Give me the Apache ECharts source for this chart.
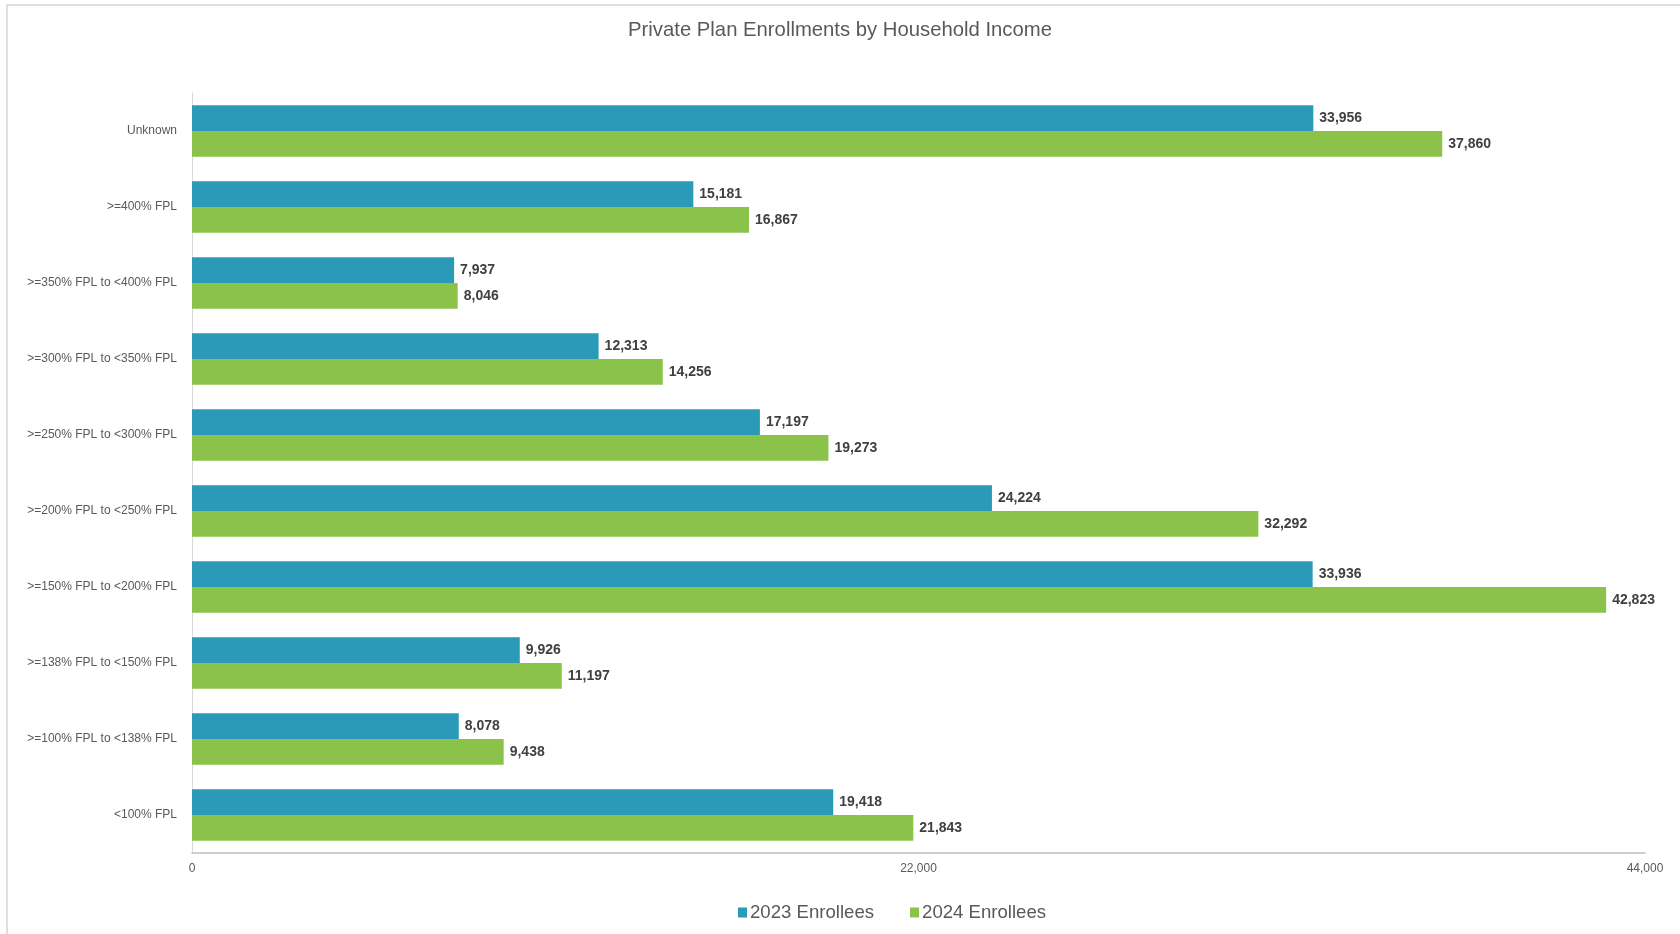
<!DOCTYPE html>
<html>
<head>
<meta charset="utf-8">
<script src="https://cdn.jsdelivr.net/npm/echarts@6/dist/echarts.min.js"></script>
<style>
html,body{margin:0;padding:0;background:#fff;}
#chart{width:1680px;height:934px;}
</style>
</head>
<body>
<div id="chart"></div>
<script>
const categories = [
  "Unknown",
  ">=400% FPL",
  ">=350% FPL to <400% FPL",
  ">=300% FPL to <350% FPL",
  ">=250% FPL to <300% FPL",
  ">=200% FPL to <250% FPL",
  ">=150% FPL to <200% FPL",
  ">=138% FPL to <150% FPL",
  ">=100% FPL to <138% FPL",
  "<100% FPL"
];
const enrollees2023 = [33956, 15181, 7937, 12313, 17197, 24224, 33936, 9926, 8078, 19418];
const enrollees2024 = [37860, 16867, 8046, 14256, 19273, 32292, 42823, 11197, 9438, 21843];
const seriesNames = ["2023 Enrollees", "2024 Enrollees"];
const axisMin = 0, axisMax = 44000, axisInterval = 22000;

const chart = echarts.init(document.getElementById('chart'));
const fmt = v => v.toLocaleString('en-US');
const labelStyle = {
  show: true, position: 'right', distance: 6,
  fontFamily: 'Liberation Sans, Arial, sans-serif', fontSize: 14, fontWeight: 'bold', color: '#404040',
  formatter: p => fmt(p.value)
};
chart.setOption({
  animation: false,
  backgroundColor: '#fff',
  graphic: [{
    type: 'rect', shape: {x: 7, y: 5, width: 1800, height: 1000},
    style: {fill: 'none', stroke: '#bfbfbf', lineWidth: 1}, silent: true, z: -1
  }],
  title: {
    text: 'Private Plan Enrollments by Household Income',
    left: 'center', top: 20, padding: 0,
    textStyle: {fontFamily: 'Liberation Sans, Arial, sans-serif', fontSize: 20.3, fontWeight: 'normal', color: '#595959'}
  },
  legend: {
    data: seriesNames, bottom: 12, left: 738, padding: 0,
    itemWidth: 9, itemHeight: 10, itemGap: 36, icon: 'rect',
    textStyle: {fontFamily: 'Liberation Sans, Arial, sans-serif', fontSize: 18.6, color: '#595959', padding: [0,0,0,-2]}
  },
  grid: {left: 192, right: 35, top: 93, bottom: 81, containLabel: false},
  xAxis: {
    type: 'value', min: axisMin, max: axisMax, interval: axisInterval,
    axisLine: {show: true, lineStyle: {color: '#bfbfbf', width: 1.5}},
    axisTick: {show: false},
    splitLine: {show: false},
    axisLabel: {fontFamily: 'Liberation Sans, Arial, sans-serif', fontSize: 12, color: '#595959', margin: 10, formatter: v => fmt(v)}
  },
  yAxis: {
    type: 'category', data: categories, inverse: true,
    axisLine: {show: true, lineStyle: {color: '#d9d9d9'}},
    axisTick: {show: false},
    axisLabel: {fontFamily: 'Liberation Sans, Arial, sans-serif', fontSize: 12, color: '#595959', margin: 15}
  },
  series: [
    {name: seriesNames[0], type: 'bar', data: enrollees2023, barGap: '0%', barCategoryGap: '32%',
     itemStyle: {color: '#2a9ab8'}, label: labelStyle},
    {name: seriesNames[1], type: 'bar', data: enrollees2024, barGap: '0%', barCategoryGap: '32%',
     itemStyle: {color: '#8bc34a'}, label: labelStyle}
  ]
});
</script>
</body>
</html>
